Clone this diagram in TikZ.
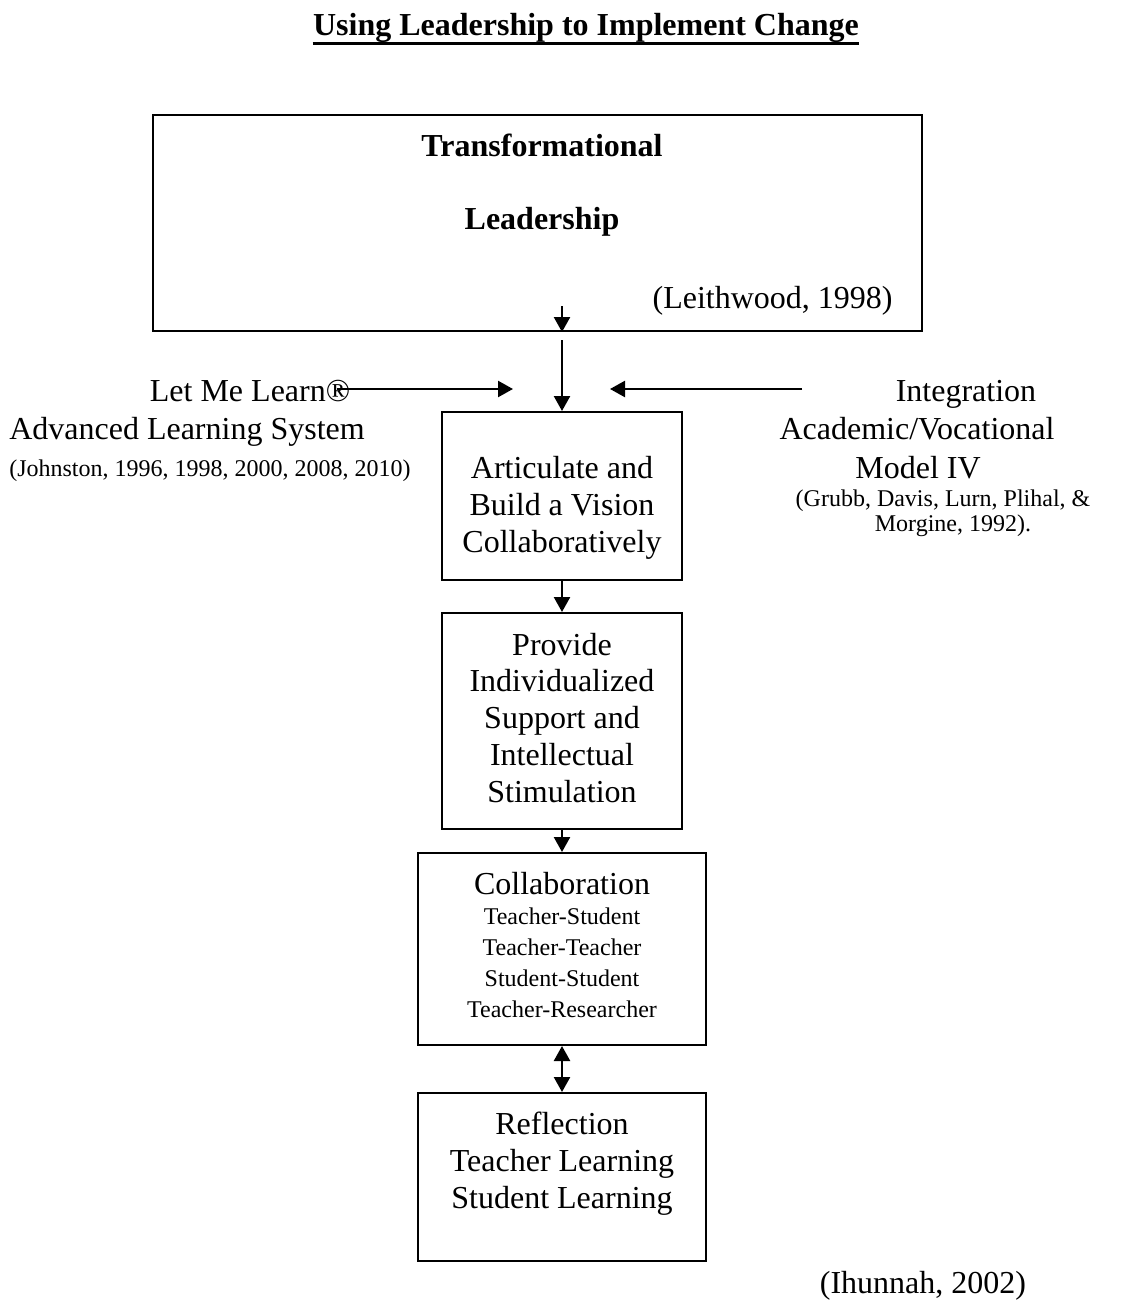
\documentclass[tikz,border=0pt]{standalone}
\usepackage{fontspec}
\setmainfont{Liberation Serif}
\usetikzlibrary{arrows.meta}

\tikzset{
  box/.style={draw, line width=1pt, inner sep=0pt},
  txt/.style={align=center, inner sep=0pt, anchor=base, font=\fontsize{16}{18.35}\selectfont},
  cite/.style={align=center, inner sep=0pt, anchor=base, font=\fontsize{12}{12.5}\selectfont},
  arr/.style={line width=1.2pt, ->},
}

\begin{document}
\begin{tikzpicture}[x=0.5pt, y=-0.5pt, >={Triangle[length=7.5pt,width=8pt]}]
	\useasboundingbox (0,0) rectangle (1125,1300);

	% title
	\node (title) [txt, font=\fontsize{16}{18.35}\selectfont\bfseries] at (586,36) {Using Leadership to Implement Change};
	\draw[line width=1.5pt] ([yshift=-4pt]title.base west) -- ([yshift=-4pt]title.base east);

	% boxes
	\node (lead) at (537.5,223) [box, minimum width=384.5pt, minimum height=108pt] {};
	\node (vision) at (562,496) [box, minimum width=120pt, minimum height=84pt] {};
	\node (support) at (562,721) [box, minimum width=120pt, minimum height=108pt] {};
	\node (collab) at (562,949) [box, minimum width=144pt, minimum height=96pt] {};
	\node (reflect) at (562,1177) [box, minimum width=144pt, minimum height=84pt] {};

	% box texts (base = last line)
	\node (trans) at (542,157) [txt, font=\fontsize{16}{18.35}\selectfont\bfseries] {Transformational};
	\node (leadtxt) at (542,230) [txt, font=\fontsize{16}{18.35}\selectfont\bfseries] {Leadership};
	\node (leith) at (893,308) [txt, anchor=base east] {(Leithwood, 1998)};
	\node (visiontxt) at (562,552) [txt] {Articulate and\\Build a Vision\\Collaboratively};
	\node (supporttxt) at (562,802) [txt] {Provide\\Individualized\\Support and\\Intellectual\\Stimulation};
	\node (collabtxt) at (562,894) [txt] {Collaboration};
	\node (pairs) at (562,1017) [cite, font=\fontsize{12}{15.5}\selectfont] {Teacher-Student\\Teacher-Teacher\\Student-Student\\Teacher-Researcher};
	\node (reflecttxt) at (562,1208) [txt] {Reflection\\Teacher Learning\\Student Learning};

	% side texts
	\node (lml) at (250,401) [txt] {Let Me Learn®};
	\node (als) at (187,439) [txt] {Advanced Learning System};
	\node (johnston) at (210,476) [cite] {(Johnston, 1996, 1998, 2000, 2008, 2010)};
	\node (integ) at (966,401) [txt] {Integration};
	\node (acad) at (917,439) [txt] {Academic/Vocational};
	\node (model) at (918,478) [txt] {Model IV};
	\node (grubb) at (943,531) [cite] {(Grubb, Davis, Lurn, Plihal, \&\\\hspace*{10pt}Morgine, 1992).};
	\node (ihunnah) at (923,1293) [txt] {(Ihunnah, 2002)};

	% arrows
	\coordinate (lin) at (562,306);
	\coordinate (lout) at (562,340);
	\coordinate (lstart) at (337,389);
	\coordinate (lend) at (513,389);
	\coordinate (rstart) at (802,389);
	\coordinate (rend) at (610,389);
	\draw[arr] (lin) -- (lin |- lead.south);
	\draw[arr] (lout) -- (vision.north);
	\draw[arr] (lstart) -- (lend);
	\draw[arr] (rstart) -- (rend);
	\draw[arr] (vision) -- (support);
	\draw[arr] (support) -- (collab);
	\draw[arr, <->] (collab) -- (reflect);
\end{tikzpicture}
\end{document}
